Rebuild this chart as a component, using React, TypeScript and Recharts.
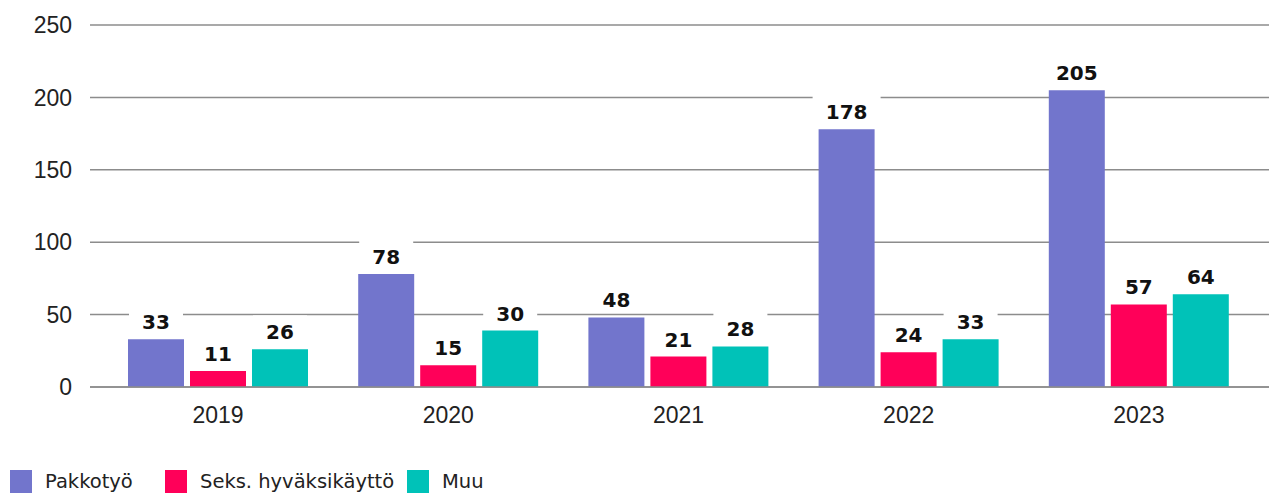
import { BarChart, Bar, XAxis, YAxis, CartesianGrid, Legend, LabelList } from 'recharts';

const YEARS = ['2019', '2020', '2021', '2022', '2023'];
const PAKKOTYO = [33, 78, 48, 178, 205];
const SEKS = [11, 15, 21, 24, 57];
const MUU = [26, 39, 28, 33, 64];
// printed labels (the 2020 "Muu" label reads 30 in the source although the bar is taller)
const PAKKOTYO_LABELS = ['33', '78', '48', '178', '205'];
const SEKS_LABELS = ['11', '15', '21', '24', '57'];
const MUU_LABELS = ['26', '30', '28', '33', '64'];
const Y_TICKS = [0, 50, 100, 150, 200, 250];

const SERIES = [
  { key: 'pakkotyo', name: 'Pakkotyö', color: '#7275CC', labels: PAKKOTYO_LABELS },
  { key: 'seks', name: 'Seks. hyväksikäyttö', color: '#FF0059', labels: SEKS_LABELS },
  { key: 'muu', name: 'Muu', color: '#00C2B8', labels: MUU_LABELS },
];

const data = YEARS.map((year, i) => ({
  year,
  pakkotyo: PAKKOTYO[i],
  seks: SEKS[i],
  muu: MUU[i],
}));

const makeLabel = (labels: string[]) => (props: any) => {
  const { x, y, width, index } = props;
  const text = labels[index];
  const cx = x + width / 2;
  const w = text.length * 14 + 26;
  return (
    <g>
      <rect x={cx - w / 2} y={y - 34} width={w} height={27} fill="#fff" />
      <text
        x={cx}
        y={y - 10}
        textAnchor="middle"
        fontFamily="'DejaVu Sans', sans-serif"
        fontWeight="bold"
        fontSize={20}
        fill="#111"
      >
        {text}
      </text>
    </g>
  );
};

function LegendContent() {
  return (
    <div style={{ height: 49, position: 'relative', fontFamily: "'DejaVu Sans', sans-serif", fontSize: 19.5, color: '#222' }}>
      {SERIES.map((s, i) => {
        const left = [10, 165, 407][i];
        return (
          <div key={s.key} style={{ position: 'absolute', left, top: 23, display: 'flex', alignItems: 'center', whiteSpace: 'nowrap' }}>
            <span style={{ width: 22, height: 23, background: s.color, display: 'inline-block', marginRight: 13 }} />
            <span style={{ lineHeight: '23px' }}>{s.name}</span>
          </div>
        );
      })}
    </div>
  );
}

export default function App() {
  return (
    <div style={{ width: 1269, height: 496, background: '#fff', overflow: 'hidden' }}>
      <style>{'body{margin:0}'}</style>
      <BarChart
        width={1269}
        height={496}
        data={data}
        margin={{ top: 25, right: 0, bottom: 0, left: 0 }}
        barCategoryGap={25}
        barGap={6}
      >
        <CartesianGrid vertical={false} stroke="#8c8c8c" strokeWidth={1.5} />
        <XAxis
          dataKey="year"
          height={60}
          padding={{ left: 13, right: 15 }}
          axisLine={{ stroke: '#8c8c8c', strokeWidth: 1.5 }}
          tickLine={false}
          tickSize={0}
          tickMargin={20}
          tick={{ fontFamily: "'Liberation Sans', Arial, sans-serif", fontSize: 23, fill: '#222' }}
        />
        <YAxis
          width={90}
          domain={[0, 250]}
          ticks={Y_TICKS}
          axisLine={false}
          tickLine={false}
          tickSize={0}
          tickMargin={18}
          tick={{ fontFamily: "'Liberation Sans', Arial, sans-serif", fontSize: 23, fill: '#222' }}
        />
        <Legend verticalAlign="bottom" height={49} content={<LegendContent />} />
        {SERIES.map(s => (
          <Bar key={s.key} dataKey={s.key} name={s.name} fill={s.color} isAnimationActive={false}>
            <LabelList dataKey={s.key} content={makeLabel(s.labels)} />
          </Bar>
        ))}
      </BarChart>
    </div>
  );
}
